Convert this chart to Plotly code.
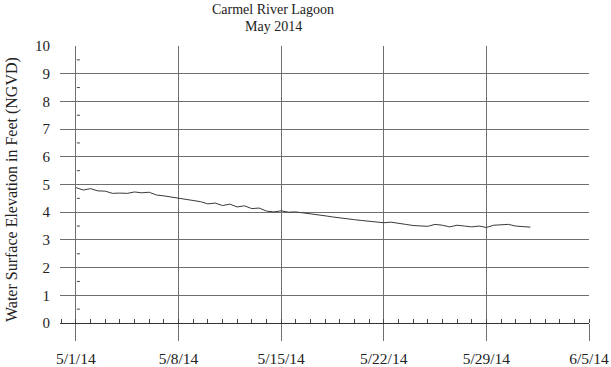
import plotly.graph_objects as go
import pandas as pd

# Water surface elevation, half-day samples starting 5/1/14 00:00
start = "2014-05-01"
elevation = [
    4.89, 4.80, 4.85, 4.77, 4.76, 4.68, 4.69, 4.68, 4.73, 4.70,
    4.72, 4.62, 4.59, 4.55, 4.51, 4.47, 4.43, 4.38, 4.30, 4.33,
    4.24, 4.29, 4.19, 4.23, 4.13, 4.15, 4.04, 4.01, 4.05, 4.00,
    4.01, 3.98, 3.95, 3.91, 3.87, 3.83, 3.79, 3.75, 3.73, 3.70,
    3.67, 3.65, 3.62, 3.64, 3.59, 3.56, 3.52, 3.50, 3.49, 3.56,
    3.53, 3.47, 3.53, 3.50, 3.47, 3.50, 3.45, 3.53, 3.54, 3.56,
    3.50, 3.49, 3.46,
]
times = pd.date_range(start, periods=len(elevation), freq="12h")

x_ticks = ["2014-05-01", "2014-05-08", "2014-05-15", "2014-05-22", "2014-05-29", "2014-06-05"]
y_ticks = list(range(0, 11))
y_minor = [v + 0.5 for v in range(0, 10)]

title_lines = ["Carmel River Lagoon", "May 2014"]
y_title = "Water Surface Elevation in Feet (NGVD)"

FONT = "Liberation Serif, Times New Roman, serif"
GRID = "#6e6e6e"
TXT = "#222"

W, H = 611, 367
ML, MR, MT, MB = 60, 22, 46, 44

fig = go.Figure()
fig.add_trace(go.Scatter(
    x=times, y=elevation, mode="lines",
    line=dict(color="#3a3a3a", width=1), showlegend=False, hoverinfo="skip",
))

shapes = []
for v in y_minor:
    shapes.append(dict(
        type="line", xref="x", yref="y", xsizemode="pixel", xanchor=x_ticks[0],
        x0=1, x1=4, y0=v, y1=v, line=dict(color="#444", width=1),
    ))

pw = W - ML - MR
ph = H - MT - MB


def px_x(px):
    return (px - ML) / pw


def px_y(py):
    return 1 - (py - MT) / ph


annotations = [
    dict(text=title_lines[0], xref="paper", yref="paper", x=px_x(273), y=px_y(10),
         xanchor="center", yanchor="middle", showarrow=False,
         font=dict(family=FONT, size=14, color=TXT)),
    dict(text=title_lines[1], xref="paper", yref="paper", x=px_x(273), y=px_y(26),
         xanchor="center", yanchor="middle", showarrow=False,
         font=dict(family=FONT, size=14, color=TXT)),
    dict(text=y_title, xref="paper", yref="paper", x=px_x(12), y=px_y(190),
         xanchor="center", yanchor="middle", textangle=-90, showarrow=False,
         font=dict(family=FONT, size=16, color=TXT)),
]

fig.update_layout(
    width=W, height=H,
    margin=dict(l=ML, r=MR, t=MT, b=MB, autoexpand=False),
    paper_bgcolor="white", plot_bgcolor="white",
    font=dict(family=FONT, size=15.5, color=TXT),
    shapes=shapes,
    annotations=annotations,
    xaxis=dict(
        range=[pd.Timestamp("2014-05-01") - pd.Timedelta(hours=26), pd.Timestamp("2014-06-05")],
        tickmode="array", tickvals=x_ticks, tickformat="%-m/%-d/%y",
        showgrid=True, gridcolor=GRID, gridwidth=1,
        ticks="outside", ticklen=17, tickcolor=GRID, tickwidth=1,
        ticklabelstandoff=4,
        minor=dict(dtick=86400000, tick0="2014-05-01", ticks="inside", ticklen=4,
                   tickcolor="#444", showgrid=False),
        showline=False, zeroline=False, automargin=False,
        tickfont=dict(family=FONT, size=15.5, color=TXT),
    ),
    yaxis=dict(
        range=[0, 10], tickmode="array", tickvals=y_ticks,
        showgrid=True, gridcolor=GRID, gridwidth=1,
        ticks="", ticklabelstandoff=9, zeroline=True, zerolinecolor="#333", zerolinewidth=1,
        showline=False, automargin=False,
        tickfont=dict(family=FONT, size=15, color=TXT),
    ),
)

fig.write_html("out.html", config={"displayModeBar": False},
               post_script="document.body.style.margin='0px';")
